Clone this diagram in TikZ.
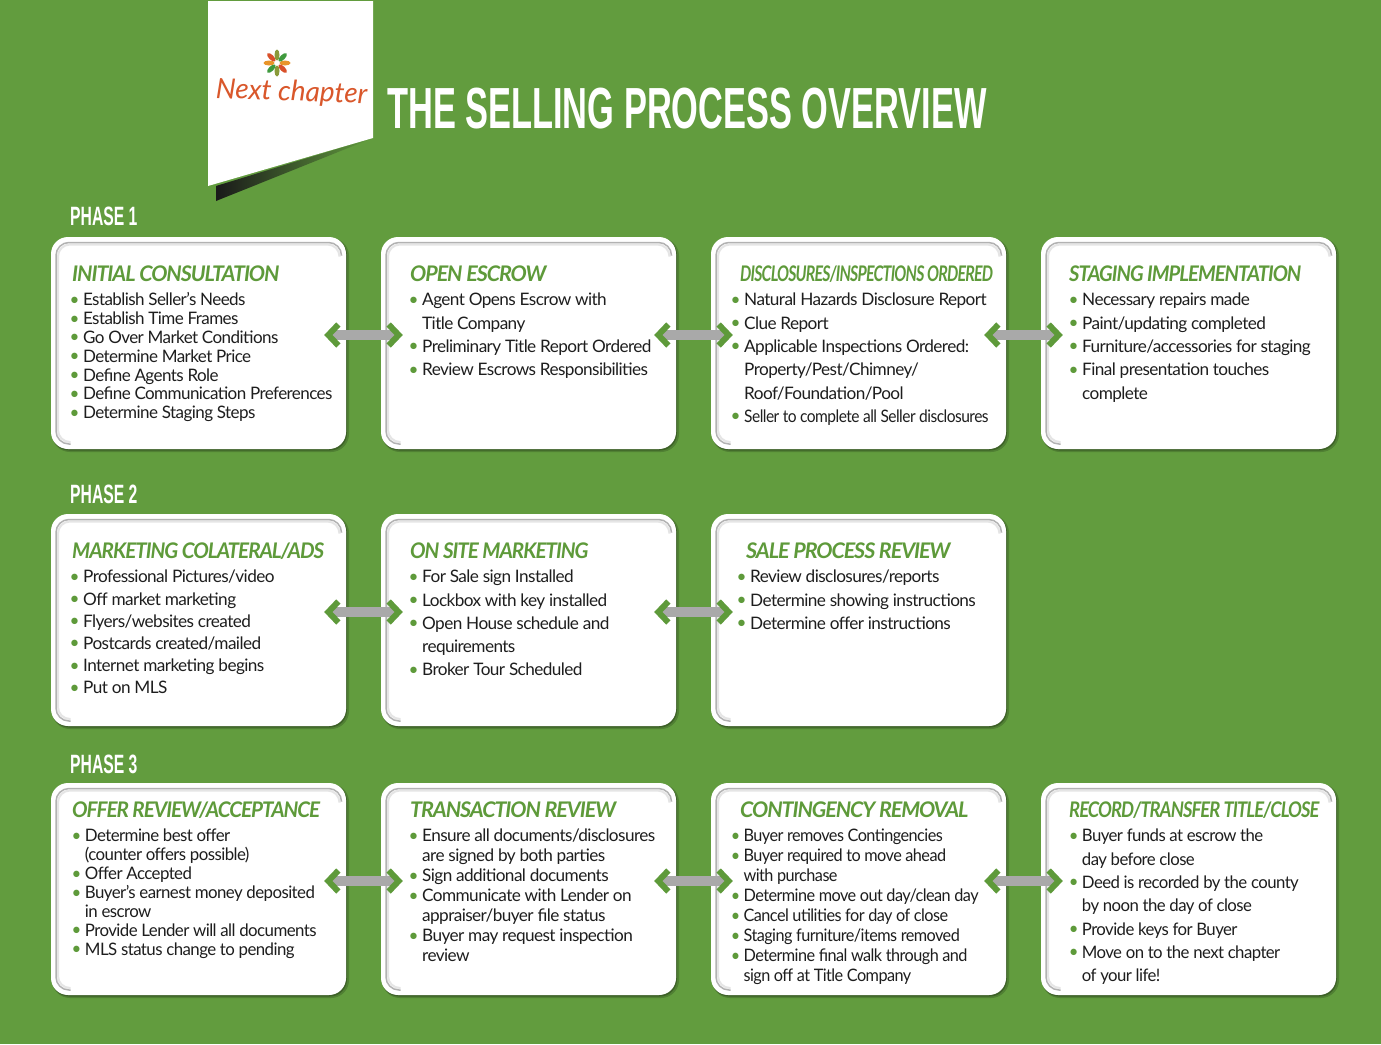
\documentclass[tikz,border=0pt]{standalone}
\usepackage{fontspec}
\usetikzlibrary{arrows.meta}
\setmainfont{Lato}
\newfontfamily\headfont[FakeStretch=0.593]{Liberation Sans}
\definecolor{bggreen}{HTML}{629C3E}
\definecolor{ttlgreen}{HTML}{5E9A3A}
\definecolor{txtgray}{HTML}{1E1E1E}
\definecolor{arrgray}{HTML}{A9A9A9}
\definecolor{logored}{HTML}{D9572B}
\definecolor{petalora}{HTML}{E8952A}
\definecolor{petalgrn}{HTML}{3F9A3E}
\definecolor{petalolv}{HTML}{8A9A3A}
\definecolor{petalred}{HTML}{D9502A}
\newcommand{\itm}{\makebox[11pt][l]{\hspace*{-2.5pt}\textcolor{ttlgreen}{\raisebox{0.5pt}{\textbullet}}}}
\newcommand{\cnt}{\hspace*{11pt}}
\begin{document}
\begin{tikzpicture}[x=1pt,y=-1pt,
  card/.style={rectangle, rounded corners=17pt, fill=white, minimum width=295pt, minimum height=212pt, inner sep=0pt},
  ttl/.style={anchor=base west, inner sep=0pt, text=ttlgreen, font=\fontsize{21.5}{24}\selectfont\bfseries\itshape\addfontfeature{LetterSpace=-5}},
  body/.style={anchor=north west, inner sep=0pt, align=left, text=txtgray, font=\fontsize{17.2}{#1}\selectfont\addfontfeature{LetterSpace=-3.4}},
  phase/.style={anchor=base west, inner sep=0pt, text=white, font=\fontsize{26.5}{30}\headfont\bfseries},
  link/.style={{Straight Barb[color=ttlgreen,length=10pt,width=21pt,line width=6pt]}-{Straight Barb[color=ttlgreen,length=10pt,width=21pt,line width=6pt]}, arrgray, line width=10pt, shorten <=-22pt, shorten >=-22pt}
]
\useasboundingbox (0,0) rectangle (1381,1044);
\fill[bggreen] (0,0) rectangle (1381,1044);

% logo banner
\shade[left color=black!90, middle color=black!65!bggreen, right color=bggreen, shading angle=90] (216,186) -- (373,138) -- (216,201) -- cycle;
\fill[white] (208,1) -- (373,1) -- (373,138) -- (208,186) -- cycle;
\foreach \a/\c in {0/petalora,45/petalred,90/petalolv,135/petalgrn,180/petalora,225/petalred,270/petalolv,315/petalgrn}
  \fill[\c] (277,63) ++(-\a:8pt) ellipse[x radius=5.5pt, y radius=2.5pt, rotate=-\a];
\node[rotate=-2, text=logored, inner sep=0pt, font=\fontsize{28}{32}\selectfont\itshape] (logo) at (291.5,93) {Next chapter};

\node[anchor=base west, inner sep=0pt, text=white, font=\fontsize{58}{60}\headfont\bfseries] (head) at (387,128) {THE SELLING PROCESS OVERVIEW};

\node[phase] (ph1) at (70,225) {PHASE 1};
\node[phase] (ph2) at (70,503) {PHASE 2};
\node[phase] (ph3) at (70,773) {PHASE 3};

% cards
\foreach \n/\x/\y in {a1/198.5/343, a2/528.5/343, a3/858.5/343, a4/1188.5/343,
                      b1/198.5/620, b2/528.5/620, b3/858.5/620,
                      c1/198.5/889, c2/528.5/889, c3/858.5/889, c4/1188.5/889}{
  \fill[black!18!bggreen, rounded corners=18pt] (\x-146.5,\y-105) rectangle (\x+150.5,\y+109);
  \fill[black!38!bggreen, rounded corners=17pt] (\x-146.5,\y-105) rectangle (\x+148.5,\y+107.5);
  \node[card] (\n) at (\x,\y) {};
  \draw[black!10, line width=2pt, rounded corners=12pt] (\x-128,\y+99) -- (\x-140.5,\y+99) -- (\x-140.5,\y-98.5) -- (\x+141,\y-98.5) -- (\x+141,\y-88);
  \draw[black!30, line width=1.5pt, rounded corners=13pt] (\x-128,\y+101) -- (\x-142.5,\y+101) -- (\x-142.5,\y-100.5) -- (\x+143,\y-100.5) -- (\x+143,\y-88);
}

% phase 1
\node[ttl] (t1) at (72,281) {INITIAL CONSULTATION};
\node[body=18.8pt, xscale=.99] (l1) at (72,292.5) {\itm Establish Seller’s Needs\\\itm Establish Time Frames\\\itm Go Over Market Conditions\\\itm Determine Market Price\\\itm Define Agents Role\\\itm Define Communication Preferences\\\itm Determine Staging Steps};
\node[ttl] (t2) at (410,281) {OPEN ESCROW};
\node[body=23.3pt] (l2) at (411,293) {\itm Agent Opens Escrow with\\\cnt Title Company\\\itm Preliminary Title Report Ordered\\\itm Review Escrows Responsibilities};
\node[ttl, xscale=.74] (t3) at (740,281) {DISCLOSURES/INSPECTIONS ORDERED};
\node[body=23.3pt] (l3) at (733,293) {\itm Natural Hazards Disclosure Report\\\itm Clue Report\\\itm Applicable Inspections Ordered:\\\cnt Property/Pest/Chimney/\\\cnt Roof/Foundation/Pool\\\itm \scalebox{.904}[1]{Seller to complete all Seller disclosures}};
\node[ttl, xscale=.94] (t4) at (1069,281) {STAGING IMPLEMENTATION};
\node[body=23.3pt] (l4) at (1071,293) {\itm Necessary repairs made\\\itm Paint/updating completed\\\itm Furniture/accessories for staging\\\itm Final presentation touches\\\cnt complete};

% phase 2
\node[ttl, xscale=.96] (t5) at (72,558) {MARKETING COLATERAL/ADS};
\node[body=22.2pt] (l5) at (72,570) {\itm Professional Pictures/video\\\itm Off market marketing\\\itm Flyers/websites created\\\itm Postcards created/mailed\\\itm Internet marketing begins\\\itm Put on MLS};
\node[ttl, xscale=.96] (t6) at (410,558) {ON SITE MARKETING};
\node[body=23.2pt] (l6) at (411,570) {\itm For Sale sign Installed\\\itm Lockbox with key installed\\\itm Open House schedule and\\\cnt requirements\\\itm Broker Tour Scheduled};
\node[ttl] (t7) at (746,558) {SALE PROCESS REVIEW};
\node[body=23.3pt] (l7) at (739,570) {\itm Review disclosures/reports\\\itm Determine showing instructions\\\itm Determine offer instructions};

% phase 3
\node[ttl, xscale=.96] (t8) at (72,817) {OFFER REVIEW/ACCEPTANCE};
\node[body=18.9pt, xscale=.98] (l8) at (74,829) {\itm Determine best offer\\\cnt (counter offers possible)\\\itm Offer Accepted\\\itm Buyer’s earnest money deposited\\\cnt in escrow\\\itm Provide Lender will all documents\\\itm MLS status change to pending};
\node[ttl] (t9) at (410,817) {TRANSACTION REVIEW};
\node[body=20pt] (l9) at (411,829) {\itm Ensure all documents/disclosures\\\cnt are signed by both parties\\\itm Sign additional documents\\\itm Communicate with Lender on\\\cnt appraiser/buyer file status\\\itm Buyer may request inspection\\\cnt review};
\node[ttl] (t10) at (740,817) {CONTINGENCY REMOVAL};
\node[body=20pt, xscale=.945] (l10) at (733,829) {\itm Buyer removes Contingencies\\\itm Buyer required to move ahead\\\cnt with purchase\\\itm Determine move out day/clean day\\\itm Cancel utilities for day of close\\\itm Staging furniture/items removed\\\itm Determine final walk through and\\\cnt sign off at Title Company};
\node[ttl, xscale=.855] (t11) at (1069,817) {RECORD/TRANSFER TITLE/CLOSE};
\node[body=23.3pt, xscale=.975] (l11) at (1071,829) {\itm Buyer funds at escrow the\\\cnt day before close\\\itm Deed is recorded by the county\\\cnt by noon the day of close\\\itm Provide keys for Buyer\\\itm Move on to the next chapter\\\cnt of your life!};

% links
\draw[link] ([yshift=8pt]a1.east) -- ([yshift=8pt]a2.west);
\draw[link] ([yshift=8pt]a2.east) -- ([yshift=8pt]a3.west);
\draw[link] ([yshift=8pt]a3.east) -- ([yshift=8pt]a4.west);
\draw[link] ([yshift=8pt]b1.east) -- ([yshift=8pt]b2.west);
\draw[link] ([yshift=8pt]b2.east) -- ([yshift=8pt]b3.west);
\draw[link] ([yshift=8pt]c1.east) -- ([yshift=8pt]c2.west);
\draw[link] ([yshift=8pt]c2.east) -- ([yshift=8pt]c3.west);
\draw[link] ([yshift=8pt]c3.east) -- ([yshift=8pt]c4.west);
\end{tikzpicture}
\end{document}
